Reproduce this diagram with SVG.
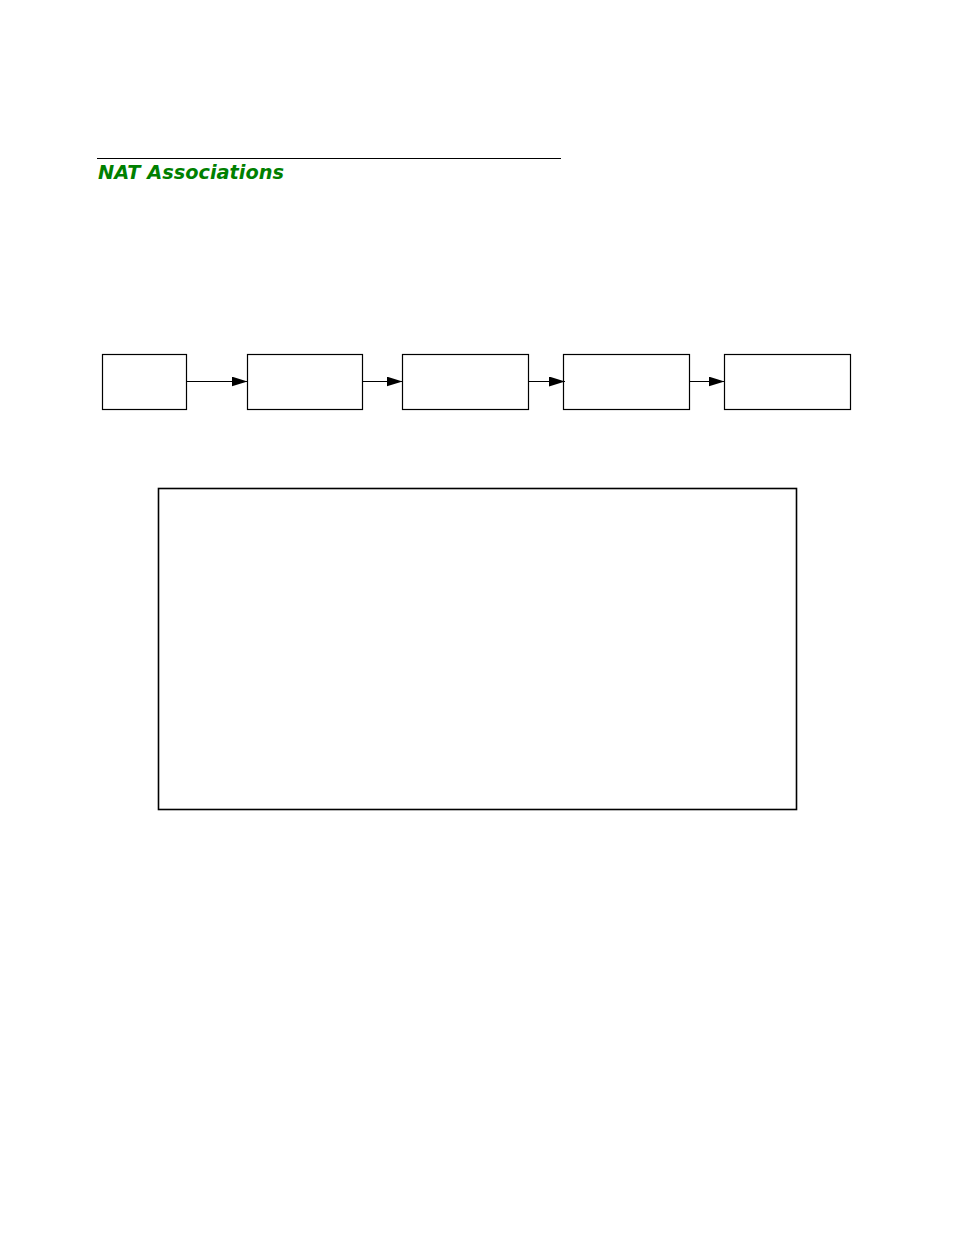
<svg xmlns="http://www.w3.org/2000/svg" width="954" height="1235" viewBox="0 0 954 1235">
<style>
.n{fill:#fff;stroke:#000;stroke-width:1.2}
.c{stroke:#000;stroke-width:1.2;fill:none}
.t{font-family:"DejaVu Sans","Liberation Sans",sans-serif;font-style:italic;font-weight:bold;fill:#008000;font-size:19px}
</style>
<defs>
<marker id="ah" markerUnits="userSpaceOnUse" markerWidth="17" markerHeight="10" refX="16" refY="5" orient="auto">
<path d="M0,0 L16,5 L0,10 Z" fill="#000"/>
</marker>
</defs>
<rect width="954" height="1235" fill="#fff"/>
<g id="title">
<line x1="97" y1="158.5" x2="561" y2="158.5" stroke="#000" stroke-width="1"/>
<text class="t" x="98" y="179" textLength="186" lengthAdjust="spacingAndGlyphs">NAT Associations</text>
</g>
<g id="node1"><rect class="n" x="102.5" y="354.5" width="84" height="55"/></g>
<g id="node2"><rect class="n" x="247.5" y="354.5" width="115" height="55"/></g>
<g id="node3"><rect class="n" x="402.5" y="354.5" width="126" height="55"/></g>
<g id="node4"><rect class="n" x="563.5" y="354.5" width="126" height="55"/></g>
<g id="node5"><rect class="n" x="724.5" y="354.5" width="126" height="55"/></g>
<g id="panel"><rect x="158.5" y="488.5" width="638" height="321" fill="none" stroke="#000" stroke-width="1.6"/></g>
<g id="connectors">
<line class="c" x1="186.5" y1="381.5" x2="247.5" y2="381.5" marker-end="url(#ah)"/>
<line class="c" x1="362.5" y1="381.5" x2="402.5" y2="381.5" marker-end="url(#ah)"/>
<line class="c" x1="528.5" y1="381.5" x2="565" y2="381.5" marker-end="url(#ah)"/>
<line class="c" x1="689.5" y1="381.5" x2="724.5" y2="381.5" marker-end="url(#ah)"/>
</g>
</svg>
